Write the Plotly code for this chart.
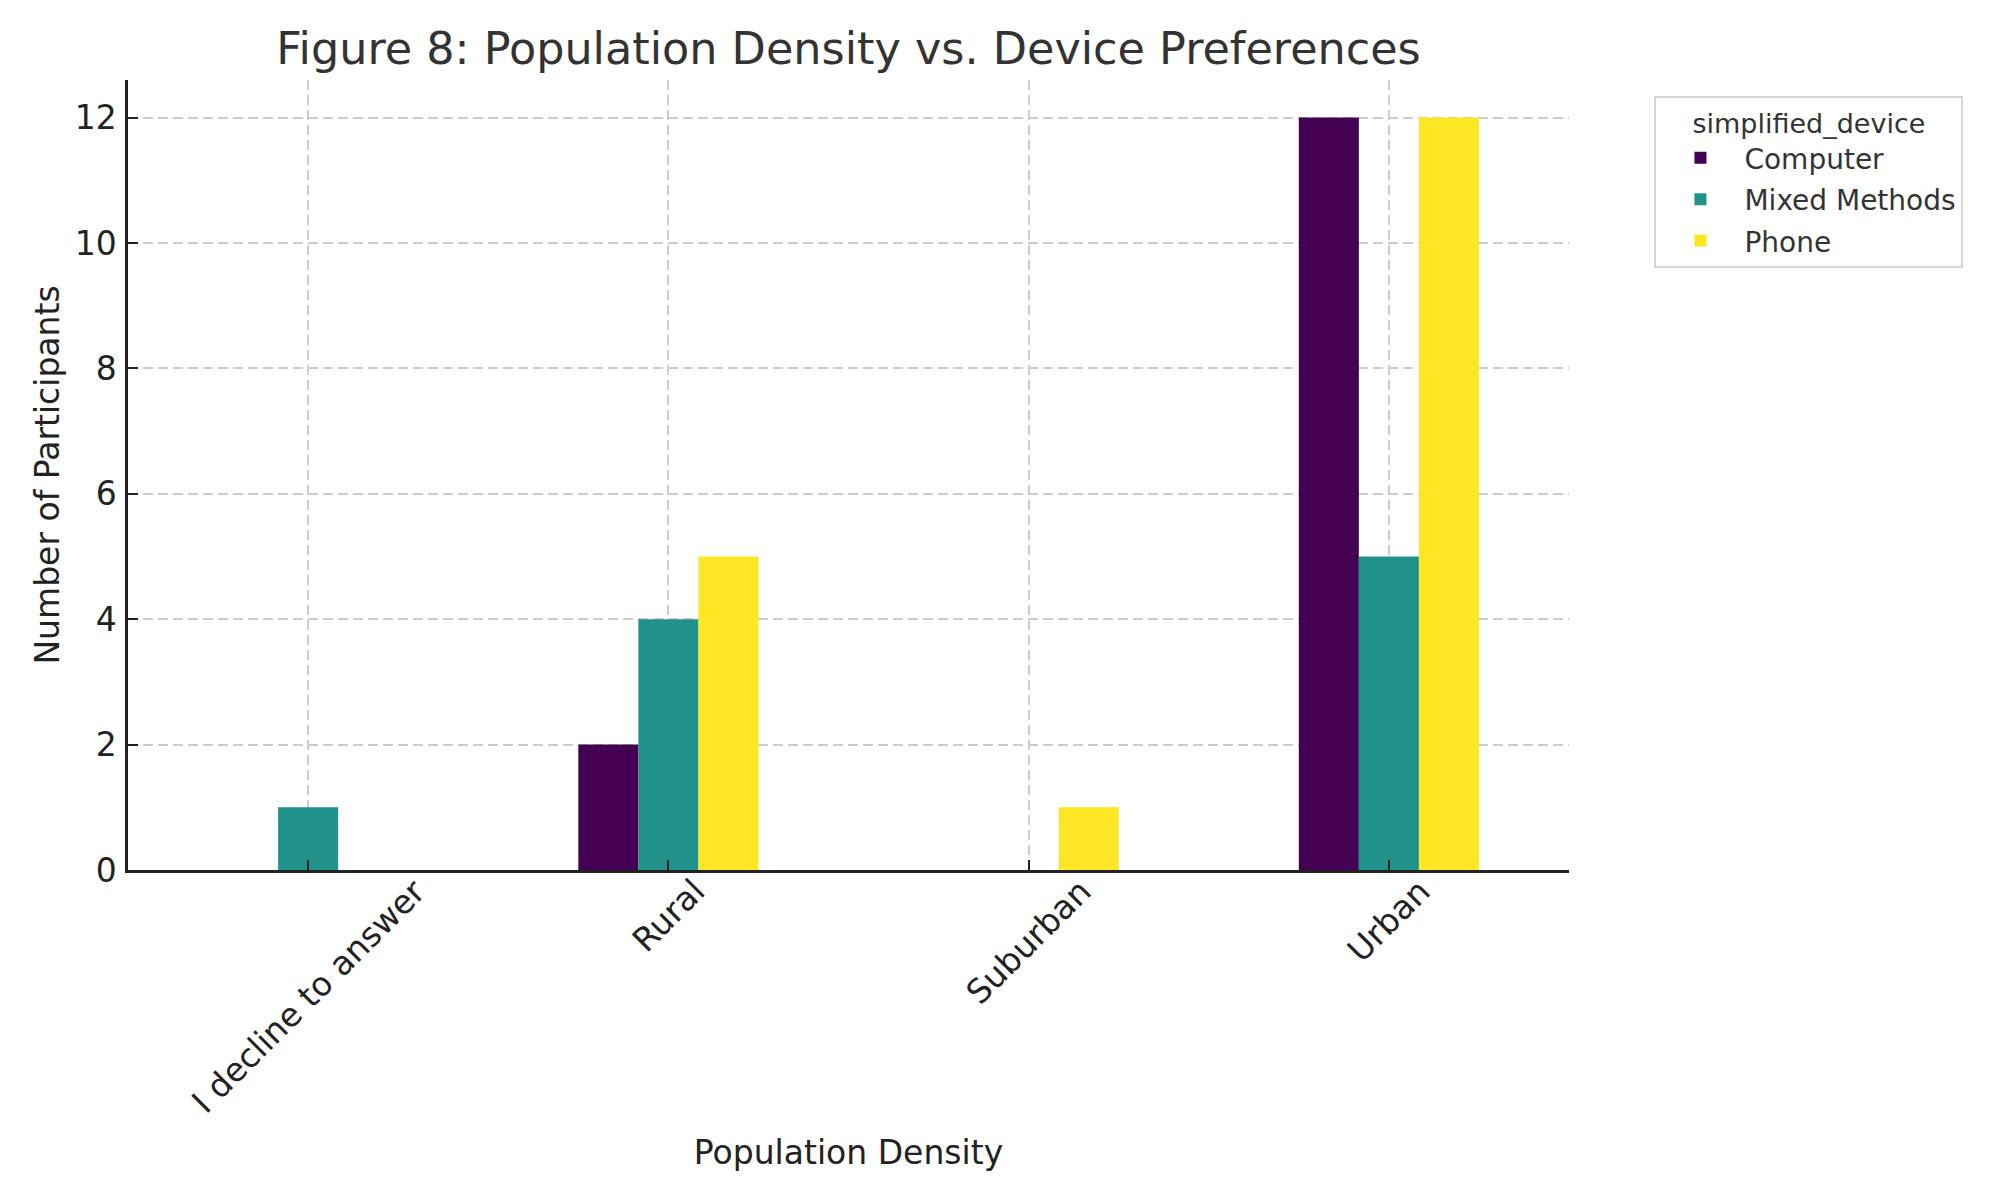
import plotly.graph_objects as go

# ---- data ----
categories = ["I decline to answer", "Rural", "Suburban", "Urban"]
series_names = ["Computer", "Mixed Methods", "Phone"]
computer = [0, 2, 0, 12]
mixed_methods = [1, 4, 0, 5]
phone = [0, 5, 1, 12]
y_ticks = [0, 2, 4, 6, 8, 10, 12]

colors = ["#440154", "#21918c", "#fde725"]
FONT = "DejaVu Sans"

# page body has an 8px margin; plot area target (screen px): x 127.5..1569.5, y 80..870
OFF = 8
L, R, T, B = 127.5 - OFF, 1569.5 - OFF, 80 - OFF, 870 - OFF

fig = go.Figure()
for name, vals, col in zip(series_names, [computer, mixed_methods, phone], colors):
    fig.add_trace(go.Bar(
        name=name, x=categories, y=vals, legendgroup=name,
        marker=dict(color=col, line=dict(width=0)),
    ))

# rotated, centred category labels (matplotlib-style rotation=45, ha=center)
annotations = []
for cat in categories:
    annotations.append(dict(
        x=cat, xref="x", y=0, yref="paper",
        text=cat, showarrow=False, textangle=-45,
        xanchor="center", yanchor="top", yshift=1,
        font=dict(family=FONT, size=33, color="#222222"),
    ))

fig.update_layout(
    width=2000, height=1200,
    margin=dict(l=L, r=2000 - R, t=T, b=1200 - B, autoexpand=False),
    paper_bgcolor="white", plot_bgcolor="white",
    font=dict(family=FONT, color="#222222"),
    barmode="group", bargap=0.5, bargroupgap=0,
    title=dict(
        text="Figure 8: Population Density vs. Device Preferences",
        font=dict(family=FONT, size=44.5, color="#333333"),
        x=(L + R) / 2 / 2000, xanchor="center", xref="container",
        y=1 - (48 - OFF) / 1200, yanchor="middle", yref="container",
    ),
    legend=dict(
        title=dict(text="simplified_device", side="top center",
                   font=dict(family=FONT, size=27, color="#333333")),
        font=dict(family=FONT, size=28, color="#333333"),
        x=(1655 - OFF - L) / (R - L), y=(B - (96 - OFF)) / (B - T),
        xanchor="left", yanchor="top",
        bgcolor="white", bordercolor="#d6d6d6", borderwidth=2,
        itemwidth=78, tracegroupgap=2,
    ),
    annotations=annotations,
)

fig.update_xaxes(
    type="category", categoryorder="array", categoryarray=categories,
    range=[-0.5, 3.5],
    showticklabels=False,
    showline=True, linecolor="#222222", linewidth=2.5, mirror=False,
    ticks="inside", ticklen=10, tickwidth=2.2, tickcolor="#222222",
    showgrid=True, gridcolor="#cccccc", gridwidth=2, griddash="10px,5px",
    zeroline=False,
    title=dict(text="Population Density", standoff=270,
               font=dict(family=FONT, size=33, color="#222222")),
)
fig.update_yaxes(
    range=[0, 12.6], tickvals=y_ticks,
    showline=True, linecolor="#222222", linewidth=2.5,
    ticks="inside", ticklen=10, tickwidth=2.2, tickcolor="#222222",
    tickfont=dict(family=FONT, size=33, color="#222222"),
    ticklabelstandoff=2,
    showgrid=True, gridcolor="#cccccc", gridwidth=2, griddash="10px,5px",
    zeroline=False,
    title=dict(text="Number of Participants", standoff=6,
               font=dict(family=FONT, size=33, color="#222222")),
)

fig.write_html("out.html")
